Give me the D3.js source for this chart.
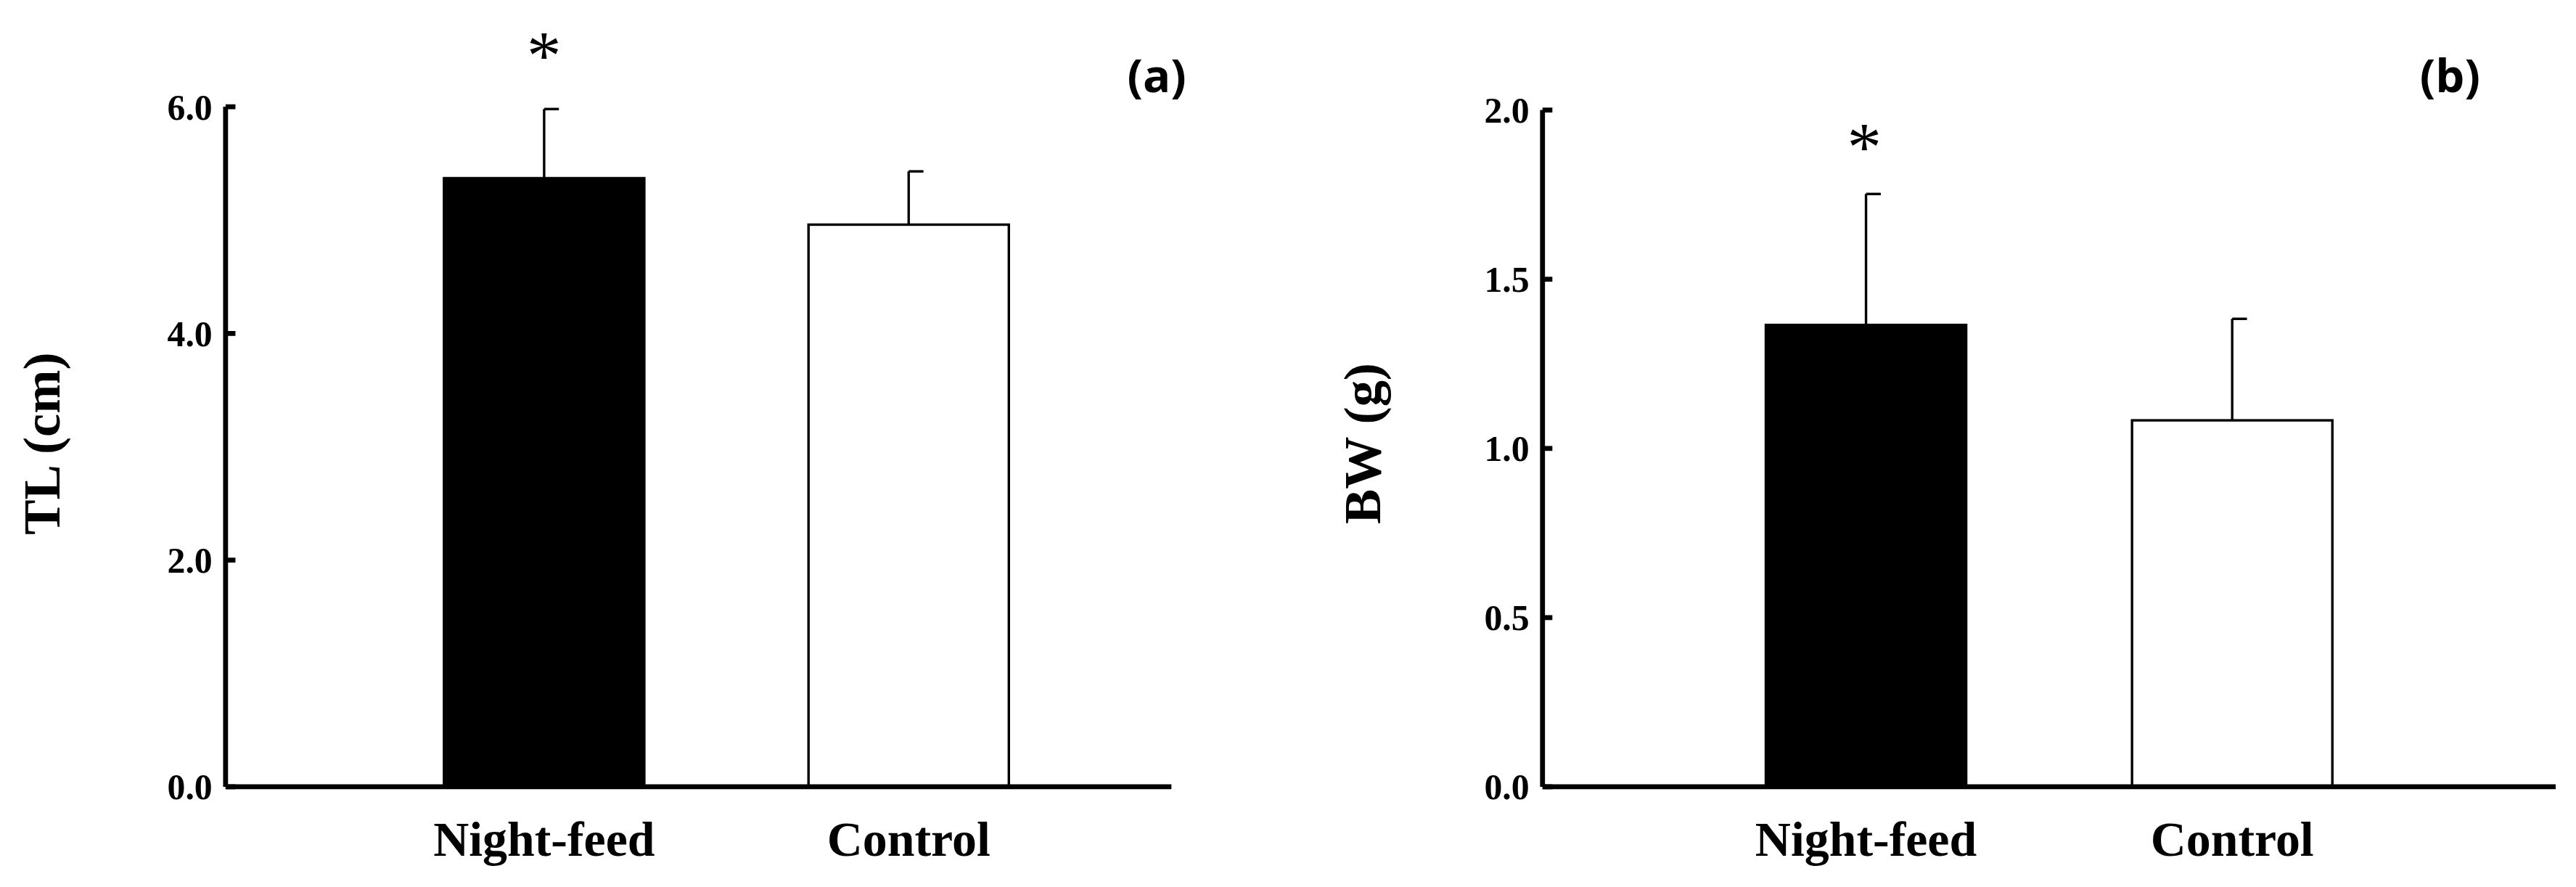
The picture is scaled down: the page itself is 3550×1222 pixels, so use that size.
<!DOCTYPE html>
<html><head><meta charset="utf-8">
<script src="https://cdn.jsdelivr.net/npm/d3@7"></script>
<style>body{margin:0;background:#fff}svg{display:block}</style>
</head><body><div id="chart"></div>
<script>
// data
const groups = ['Night-feed', 'Control'];
const tlMeans = [5.37, 4.96];
const tlErr = [0.61, 0.47];
const bwMeans = [1.365, 1.083];
const bwErr = [0.387, 0.300];
const tlTicks = [0, 2, 4, 6];
const bwTicks = [0, 0.5, 1.0, 1.5, 2.0];
const fills = ['#000', '#fff'];

const svg = d3.select('#chart').append('svg')
  .attr('width', 3550).attr('height', 1222)
  .attr('viewBox', '0 0 1568 540');

const font = '"Liberation Serif", "Times New Roman", serif';

function panel(o) {
  const g = svg.append('g');
  const y = d3.scaleLinear().domain([0, o.max]).range([479, o.top]);
  const x = d3.scaleOrdinal().domain(groups).range(o.centers);

  // bars
  g.selectAll('rect.bar').data(groups).enter().append('rect')
    .attr('x', d => x(d) - 61).attr('width', 122)
    .attr('y', (d, i) => y(o.means[i]))
    .attr('height', (d, i) => 479 - y(o.means[i]))
    .attr('fill', (d, i) => fills[i]).attr('stroke', '#000').attr('stroke-width', 1.5);

  // error bars
  groups.forEach((d, i) => {
    g.append('line').attr('x1', x(d)).attr('x2', x(d))
      .attr('y1', y(o.means[i])).attr('y2', y(o.means[i] + o.err[i]))
      .attr('stroke', '#000').attr('stroke-width', 1.5);
    g.append('line').attr('x1', x(d)).attr('x2', x(d) + 9)
      .attr('y1', y(o.means[i] + o.err[i])).attr('y2', y(o.means[i] + o.err[i]))
      .attr('stroke', '#000').attr('stroke-width', 1.5);
  });

  // axes
  g.append('line').attr('x1', o.x0).attr('x2', o.x0).attr('y1', y(o.max)).attr('y2', 479)
    .attr('stroke', '#000').attr('stroke-width', 3);
  g.append('line').attr('x1', o.x0).attr('x2', o.x1).attr('y1', 479).attr('y2', 479)
    .attr('stroke', '#000').attr('stroke-width', 3);
  o.ticks.forEach(t => {
    g.append('line').attr('x1', o.x0).attr('x2', o.x0 + 6).attr('y1', y(t)).attr('y2', y(t))
      .attr('stroke', '#000').attr('stroke-width', 3);
    g.append('text').attr('x', o.x0 - 8).attr('y', y(t)).attr('dy', '0.35em')
      .attr('text-anchor', 'end').attr('font-family', font).attr('font-weight', 'bold')
      .attr('font-size', 22).text(d3.format('.1f')(t));
  });
  groups.forEach(d => {
    g.append('text').attr('x', x(d)).attr('y', 521).attr('text-anchor', 'middle')
      .attr('font-family', font).attr('font-weight', 'bold').attr('font-size', 30).text(d);
  });

  // axis title
  g.append('text').attr('transform', `translate(${o.titleX},${o.titleY}) rotate(-90)`)
    .attr('text-anchor', 'middle').attr('font-family', font).attr('font-weight', 'bold')
    .attr('font-size', 32).text(o.title);

  // star and panel label
  g.append('text').attr('x', o.star[0]).attr('y', o.star[1]).attr('text-anchor', 'middle')
    .attr('font-family', font).attr('font-size', 42).text('*');
  g.append('text').attr('x', o.label[0]).attr('y', o.label[1]).attr('text-anchor', 'end')
    .attr('font-family', '"Open Sans", sans-serif').attr('font-weight', 'bold')
    .attr('font-size', 28).text(o.labelText);
}

panel({max: 6, top: 65, means: tlMeans, err: tlErr, ticks: tlTicks,
  centers: [331, 553], x0: 137, x1: 713, title: 'TL (cm)', titleX: 36, titleY: 270,
  star: [331, 48], label: [722, 56], labelText: '(a)'});
panel({max: 2, top: 67, means: bwMeans, err: bwErr, ticks: bwTicks,
  centers: [1136, 1359], x0: 939, x1: 1556, title: 'BW (g)', titleX: 840, titleY: 270,
  star: [1135, 104], label: [1510, 56], labelText: '(b)'});
</script></body></html>
